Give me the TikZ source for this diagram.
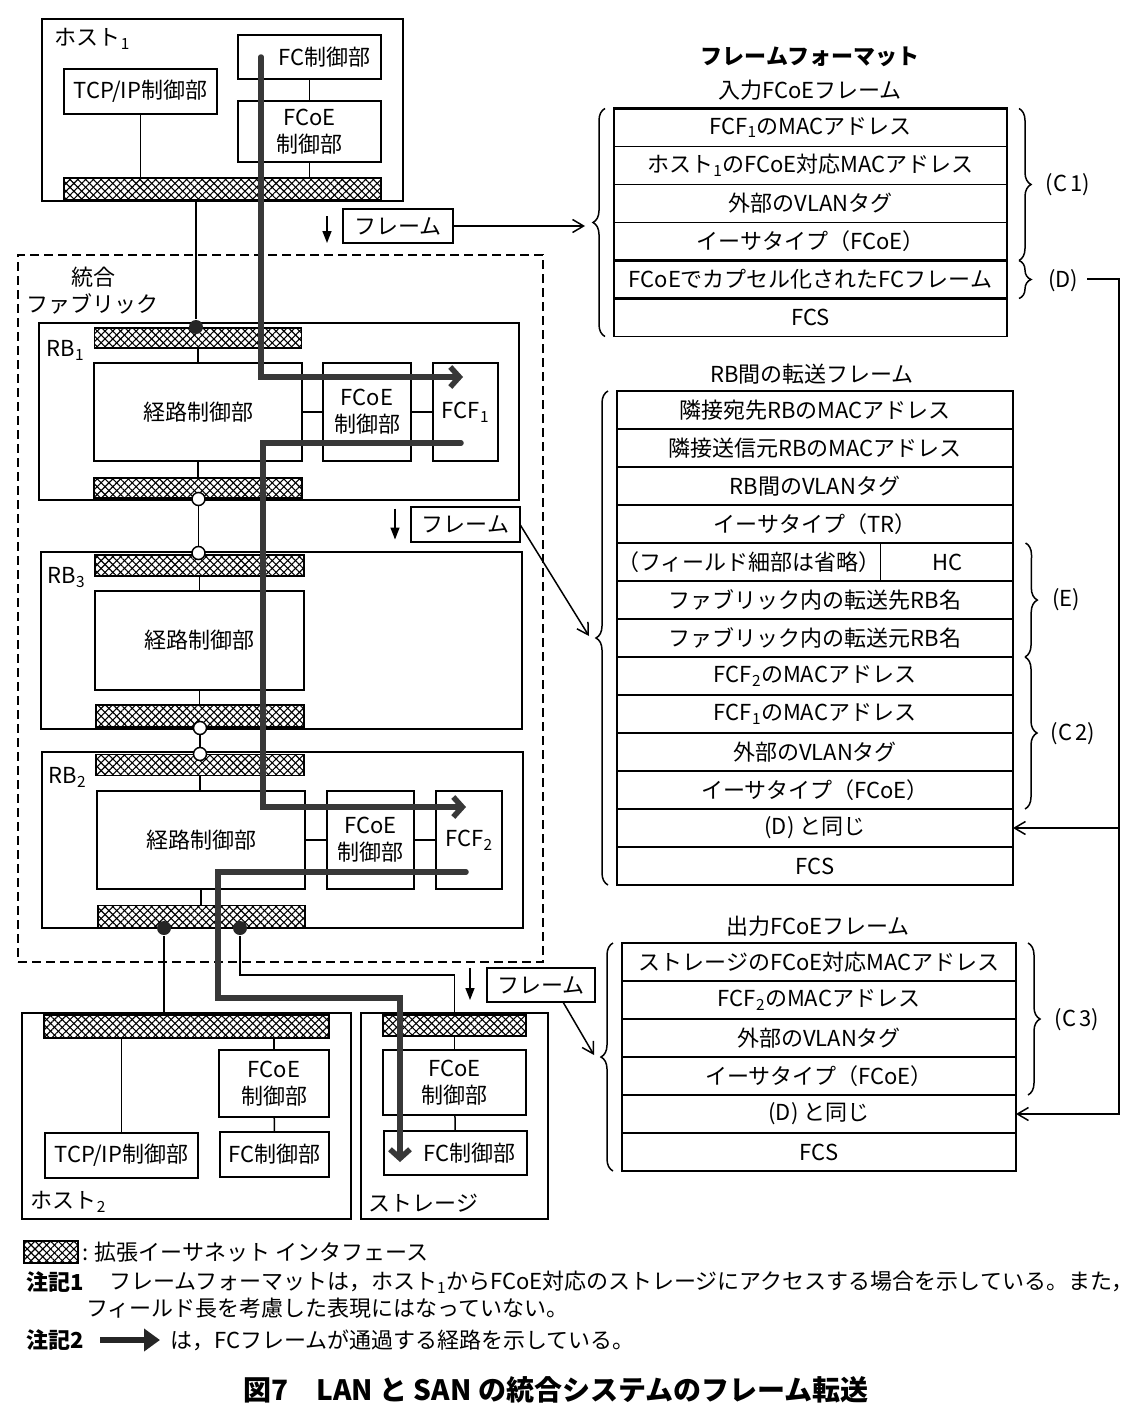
\documentclass[tikz,border=0pt]{standalone}
\usepackage{fontspec}
\setmainfont{Noto Sans CJK JP}
\usetikzlibrary{positioning,arrows.meta,patterns.meta,decorations.pathreplacing}

\begin{document}
\begin{tikzpicture}
[x=1pt, y=-1pt, font=\fontsize{22}{27}\selectfont, line width=1.5pt,
 blk/.style={draw, inner sep=0pt, outer sep=0pt, align=center},
 iface/.style={draw, inner sep=0pt, outer sep=0pt,
   pattern={Lines[angle=45,distance=5.5pt,line width=1.1pt]},
   postaction={pattern={Lines[angle=-45,distance=5.5pt,line width=1.1pt]}}},
 odot/.style={circle, draw, fill=white, minimum size=13pt, inner sep=0pt},
 fdot/.style={circle, fill=black!85, minimum size=14pt, inner sep=0pt},
 row/.style={draw, minimum height=38pt, inner sep=0pt, outer sep=0pt},
 inrow/.style={row, minimum width=393pt},
 trrow/.style={row, minimum width=396pt},
 outrow/.style={row, minimum width=394pt},
 frmrule/.style={line width=2.8pt},
 brc/.style={decorate, decoration={brace, amplitude=12pt}},
 barb/.style={-{Straight Barb[length=11pt,width=13pt]}},
 dnarrow/.style={-{Triangle[length=12pt,width=9pt]}},
 fcpath/.style={line width=5.5pt, black!78, line cap=round, -{Straight Barb[length=9pt,width=20pt]}},
 hd/.style={font=\fontsize{22}{27}\selectfont\bfseries},
 figcap/.style={font=\fontsize{28}{32}\selectfont\bfseries}]

\fill[white] (0,0) rectangle (1144,1424);
\useasboundingbox (0,0) rectangle (1144,1424);

% host 1
\node (host1) at (222.5,110) [blk, minimum width=361pt, minimum height=182pt] {};
\node at ([shift={(12,9)}]host1.north west) [anchor=north west, inner sep=0pt] {ホスト\textsubscript{1}};
\node (h1fc) at (309.5,57) [blk, minimum width=143pt, minimum height=44pt, text width=122pt, align=right] {FC制御部};
\node (h1tcp) at (140.5,91.5) [blk, minimum width=153pt, minimum height=45pt] {TCP/IP制御部};
\node (h1fcoe) at (309.5,131.5) [blk, minimum width=143pt, minimum height=61pt] {FCoE\\制御部};
\node (h1if) at (222.5,189) [iface, minimum width=317pt, minimum height=22pt] {};
\draw (h1tcp) -- (h1tcp |- h1if.north);
\draw (h1fc) -- (h1fcoe);
\draw (h1fcoe) -- (h1fcoe |- h1if.north);

\node (frm1) at (398,226) [blk, minimum width=110pt, minimum height=34pt] {フレーム};
\draw[dnarrow] ([shift={(-16,-10)}]frm1.west) -- ([shift={(-16,17)}]frm1.west);

% fabric
\node (fabric) at (280.5,608.5) [draw, dash pattern=on 9pt off 5pt, minimum width=525pt, minimum height=707pt] {};
\node at (93,266) [anchor=north, align=center, inner sep=0pt] {統合\\ファブリック};

\node (rb1) at (279,411.5) [blk, minimum width=480pt, minimum height=177pt] {};
\node at ([shift={(7,17)}]rb1.north west) [anchor=north west, inner sep=0pt] {RB\textsubscript{1}};
\node (rb1ifa) at (198,338) [iface, minimum width=207pt, minimum height=20pt] {};
\node (rb1route) at (198,412) [blk, minimum width=208pt, minimum height=98pt] {経路制御部};
\node (rb1fcoe) at (367,412) [blk, minimum width=88pt, minimum height=98pt] {FCoE\\制御部};
\node (fcf1) at (465.5,412) [blk, minimum width=65pt, minimum height=98pt] {FCF\textsubscript{1}};
\node (rb1ifb) at (198,488) [iface, minimum width=208pt, minimum height=20pt] {};
\draw (rb1ifa) -- (rb1ifa |- rb1route.north);
\draw (rb1route) -- (rb1fcoe);
\draw (rb1fcoe) -- (fcf1);
\draw (rb1route) -- (rb1route |- rb1ifb.north);

\node (frm2) at (465.5,524.5) [blk, minimum width=109pt, minimum height=35pt] {フレーム};
\draw[dnarrow] ([shift={(-16,-16)}]frm2.west) -- ([shift={(-16,15)}]frm2.west);

\node (rb3) at (281.5,640.5) [blk, minimum width=481pt, minimum height=177pt] {};
\node at ([shift={(6,15)}]rb3.north west) [anchor=north west, inner sep=0pt] {RB\textsubscript{3}};
\node (rb3ifa) at (199.5,565.5) [iface, minimum width=209pt, minimum height=21pt] {};
\node (rb3route) at (199.5,640.5) [blk, minimum width=209pt, minimum height=99pt] {経路制御部};
\node (rb3ifb) at (200,716) [iface, minimum width=208pt, minimum height=22pt] {};
\draw (rb3ifa) -- (rb3ifa |- rb3route.north);
\draw (rb3route) -- (rb3route |- rb3ifb.north);

\node (rb2) at (282.5,840) [blk, minimum width=481pt, minimum height=176pt] {};
\node at ([shift={(6,15)}]rb2.north west) [anchor=north west, inner sep=0pt] {RB\textsubscript{2}};
\node (rb2ifa) at (200,765) [iface, minimum width=208pt, minimum height=21pt] {};
\node (rb2route) at (201,840) [blk, minimum width=208pt, minimum height=98pt] {経路制御部};
\node (rb2fcoe) at (370.5,840) [blk, minimum width=87pt, minimum height=98pt] {FCoE\\制御部};
\node (fcf2) at (469,840) [blk, minimum width=66pt, minimum height=98pt] {FCF\textsubscript{2}};
\node (rb2ifb) at (201.5,916.5) [iface, minimum width=207pt, minimum height=22pt] {};
\draw (rb2ifa) -- (rb2ifa |- rb2route.north);
\draw (rb2route) -- (rb2fcoe);
\draw (rb2fcoe) -- (fcf2);
\draw (rb2route) -- (rb2route |- rb2ifb.north);

% links between bridges
\node (d1) at (196,327) [fdot] {};
\node (c1) at (198.5,499) [odot] {};
\node (c2) at (198.5,553) [odot] {};
\node (c3) at (200,728) [odot] {};
\node (c4) at (200,754) [odot] {};
\node (d2) at (164,928) [fdot] {};
\node (d3) at (240,928) [fdot] {};
\draw (d1) -- (d1 |- h1if.south);
\draw (c1) -- (c2);
\draw (c3) -- (c4);

% host 2 and storage
\node (host2) at (186.5,1116) [blk, minimum width=329pt, minimum height=206pt] {};
\node at ([shift={(8,-6)}]host2.south west) [anchor=south west, inner sep=0pt] {ホスト\textsubscript{2}};
\node (h2if) at (186.5,1026.5) [iface, minimum width=285pt, minimum height=23pt] {};
\node (h2fcoe) at (274,1083.5) [blk, minimum width=110pt, minimum height=67pt] {FCoE\\制御部};
\node (h2tcp) at (121.5,1155.5) [blk, minimum width=153pt, minimum height=45pt] {TCP/IP制御部};
\node (h2fc) at (274.5,1154.5) [blk, minimum width=109pt, minimum height=45pt] {FC制御部};
\draw (h2tcp) -- (h2tcp |- h2if.south);
\draw (h2fcoe) -- (h2fcoe |- h2if.south);
\draw (h2fcoe) -- (h2fc);

\node (stor) at (454.5,1116) [blk, minimum width=187pt, minimum height=206pt] {};
\node at ([shift={(7,-6)}]stor.south west) [anchor=south west, inner sep=0pt] {ストレージ};
\node (stif) at (454.5,1025.5) [iface, minimum width=143pt, minimum height=21pt] {};
\node (stfcoe) at (454.5,1082.5) [blk, minimum width=143pt, minimum height=65pt] {FCoE\\制御部};
\node (stfc) at (455.5,1153) [blk, minimum width=143pt, minimum height=44pt, text width=120pt, align=right] {FC制御部};
\draw (stif) -- (stfcoe);
\draw (stfcoe) -- (stfc);

\draw (d2) -- (d2 |- h2if.north);
\draw (d3) -- (240,975) -| (stif.north);

\node (frm3) at (541,985) [blk, minimum width=108pt, minimum height=34pt] {フレーム};
\draw[dnarrow] ([shift={(-17,-17)}]frm3.west) -- ([shift={(-17,15)}]frm3.west);

% frame formats
\node (fmt) at (810,57) [hd] {フレームフォーマット};
\node (infr) at (810,90) {入力FCoEフレーム};
\node (in1) at (810.5,127.5) [inrow] {FCF\textsubscript{1}のMACアドレス};
\node (in2) [inrow, below=0pt of in1] {ホスト\textsubscript{1}のFCoE対応MACアドレス};
\node (in3) [inrow, below=0pt of in2] {外部のVLANタグ};
\node (in4) [inrow, below=0pt of in3] {イーサタイプ（FCoE）};
\node (in5) [inrow, below=0pt of in4] {FCoEでカプセル化されたFCフレーム};
\node (in6) [inrow, below=0pt of in5] {FCS};
\draw[frmrule] (in1.north west) rectangle (in5.south east);
\draw[frmrule] (in5.north west) -- (in5.north east);

\node (trfr) at (812,374) {RB間の転送フレーム};
\node (tr1) at (815,410) [trrow] {隣接宛先RBのMACアドレス};
\node (tr2) [trrow, below=0pt of tr1] {隣接送信元RBのMACアドレス};
\node (tr3) [trrow, below=0pt of tr2] {RB間のVLANタグ};
\node (tr4) [trrow, below=0pt of tr3] {イーサタイプ（TR）};
\node (tr5a) at (tr4.south west) [row, minimum width=263pt, anchor=north west] {（フィールド細部は省略）};
\node (tr5b) at (tr5a.north east) [row, minimum width=133pt, anchor=north west] {HC};
\node (tr6) at (tr5a.south west) [trrow, anchor=north west] {ファブリック内の転送先RB名};
\node (tr7) [trrow, below=0pt of tr6] {ファブリック内の転送元RB名};
\node (tr8) [trrow, below=0pt of tr7] {FCF\textsubscript{2}のMACアドレス};
\node (tr9) [trrow, below=0pt of tr8] {FCF\textsubscript{1}のMACアドレス};
\node (tr10) [trrow, below=0pt of tr9] {外部のVLANタグ};
\node (tr11) [trrow, below=0pt of tr10] {イーサタイプ（FCoE）};
\node (tr12) [trrow, below=0pt of tr11] {(D) と同じ};
\node (tr13) [trrow, below=0pt of tr12] {FCS};
\draw[frmrule] (tr5a.north west) rectangle (tr7.south east);
\draw[frmrule] (tr12.north west) rectangle (tr12.south east);

\node (outfr) at (818,926) {出力FCoEフレーム};
\node (out1) at (819,962) [outrow] {ストレージのFCoE対応MACアドレス};
\node (out2) [outrow, below=0pt of out1] {FCF\textsubscript{2}のMACアドレス};
\node (out3) [outrow, below=0pt of out2] {外部のVLANタグ};
\node (out4) [outrow, below=0pt of out3] {イーサタイプ（FCoE）};
\node (out5) [outrow, below=0pt of out4] {(D) と同じ};
\node (out6) [outrow, below=0pt of out5] {FCS};
\draw[frmrule] (out1.north west) rectangle (out5.south east);
\draw[frmrule] (out5.north west) -- (out5.north east);

% braces
\draw[brc] ([xshift=-9pt]in6.south west) -- ([xshift=-9pt]in1.north west);
\draw[brc] ([xshift=12pt]in1.north east) -- ([xshift=12pt]in4.south east);
\draw[brc] ([xshift=12pt]in5.north east) -- ([xshift=12pt]in5.south east);
\node (lc1) at (1068,185) {(C\,1)};
\node (ld) at (1063,281) {(D)};
\draw[brc] ([xshift=-9pt]tr13.south west) -- ([xshift=-9pt]tr1.north west);
\draw[brc] ([xshift=12pt]tr5b.north east) -- ([xshift=12pt]tr7.south east);
\draw[brc] ([xshift=12pt]tr8.north east) -- ([xshift=12pt]tr11.south east);
\node (le) at (1066,600) {(E)};
\node (lc2) at (1073,734) {(C\,2)};
\draw[brc] ([xshift=-9pt]out6.south west) -- ([xshift=-9pt]out1.north west);
\draw[brc] ([xshift=12pt]out1.north east) -- ([xshift=12pt]out4.south east);
\node (lc3) at (1077,1020) {(C\,3)};

% frame pointers
\coordinate (t1) at (585,226);
\coordinate (t2) at (589,636);
\coordinate (t3) at (594,1055);
\draw[barb] (frm1.east) -- (t1);
\draw[barb] (frm2.east) -- (t2);
\draw[barb] ([xshift=22pt]frm3.south) -- (t3);

\coordinate (dA) at (1087,279);
\coordinate (dB) at (1119,279);
\draw[barb] (dA) -- (dB) |- (tr12.east);
\draw[barb] (dB |- tr12.east) |- (out5.east);

% FC frame route
\coordinate (p1a) at (261,57);
\coordinate (p1b) at (463,377);
\draw[fcpath] (p1a) |- (p1b);
\coordinate (p2a) at (461,443);
\coordinate (p2b) at (466,807);
\draw[fcpath] (p2a) -- (263,443) -- (263,807) -- (p2b);
\coordinate (p3a) at (466,872);
\coordinate (p3b) at (400,1162);
\draw[fcpath] (p3a) -- (218,872) -- (218,998) -| (p3b);

% legend and notes
\node (leg) at (51,1252) [iface, minimum width=54pt, minimum height=22pt] {};
\node (legt) at (leg.east) [anchor=west] {: 拡張イーサネット インタフェース};
\node (n1) at (22,1282) [anchor=west, hd] {注記1};
\node (n1t) at (105,1282) [anchor=west] {フレームフォーマットは，ホスト\textsubscript{1}からFCoE対応のストレージにアクセスする場合を示している。また，};
\node (n1u) at (82,1308) [anchor=west] {フィールド長を考慮した表現にはなっていない。};
\node (n2) at (22,1340) [anchor=west, hd] {注記2};
\coordinate (la) at (100,1340);
\coordinate (lb) at (160,1340);
\draw[line width=6pt, black!85, -{Triangle[length=16pt,width=22pt]}] (la) -- (lb);
\node (n2t) at (166,1340) [anchor=west] {は，FCフレームが通過する経路を示している。};
\node (caption) at (556,1390) [figcap] {図7　LAN と SAN の統合システムのフレーム転送};
\end{tikzpicture}
\end{document}
